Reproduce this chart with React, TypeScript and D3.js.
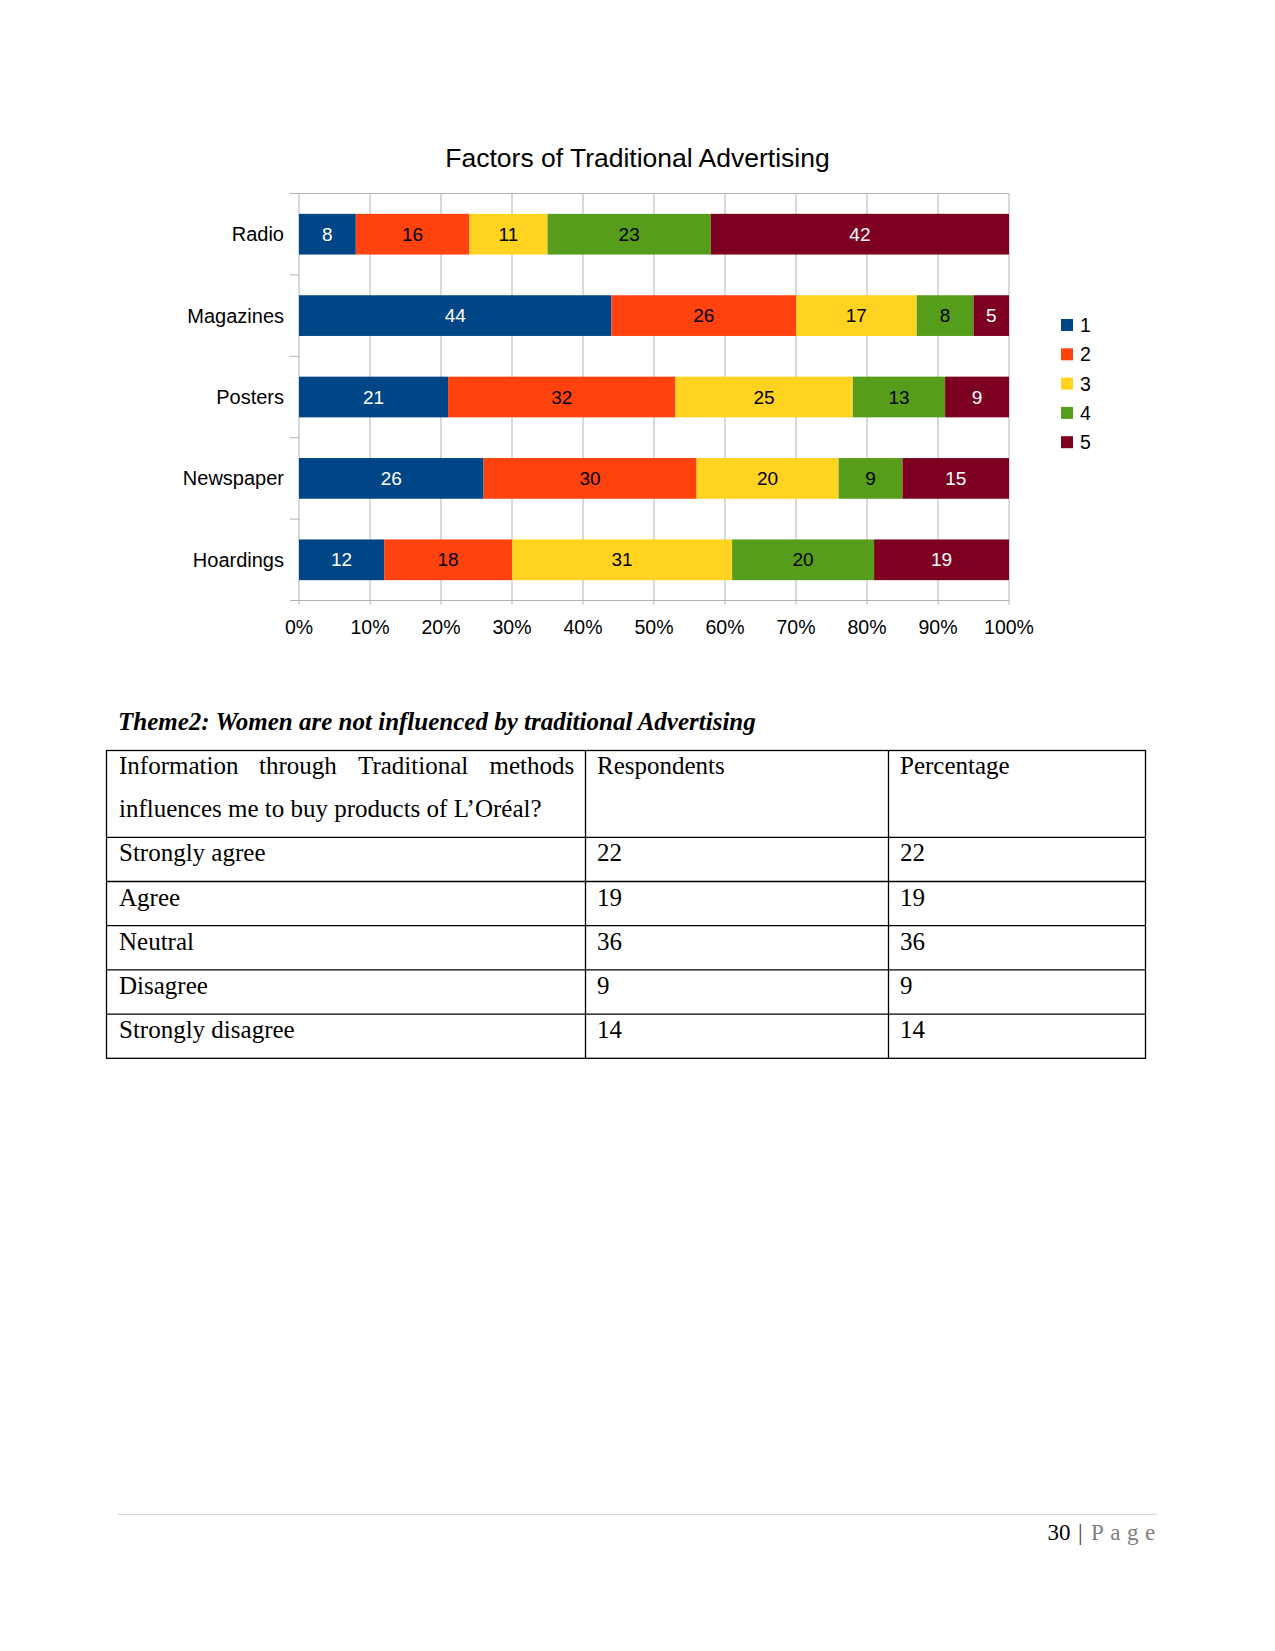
import React from "react";
import * as d3 from "d3";

const categories = ["Radio", "Magazines", "Posters", "Newspaper", "Hoardings"];
const seriesNames = ["1", "2", "3", "4", "5"];
const s1 = [8, 44, 21, 26, 12];
const s2 = [16, 26, 32, 30, 18];
const s3 = [11, 17, 25, 20, 31];
const s4 = [23, 8, 13, 9, 20];
const s5 = [42, 5, 9, 15, 19];
const seriesColors = ["#004586", "#ff420e", "#ffd320", "#579d1c", "#7e0021"];
const labelColors = ["#ffffff", "#000000", "#000000", "#000000", "#ffffff"];
const xTicks = [0, 10, 20, 30, 40, 50, 60, 70, 80, 90, 100];

const headerWords = ["Information", "through", "Traditional", "methods"];
const headerWordX = [119, 259, 358, 489.5];
const headerLine2 = "influences me to buy products of L\u2019Oréal?";
const tableCols = ["Respondents", "Percentage"];
const responses = ["Strongly agree", "Agree", "Neutral", "Disagree", "Strongly disagree"];
const respondents = [22, 19, 36, 9, 14];
const percentages = [22, 19, 36, 9, 14];

const SANS = "'Liberation Sans', Arial, sans-serif";
const SERIF = "'Liberation Serif', 'Times New Roman', serif";

export default function App() {
  const series = [s1, s2, s3, s4, s5];
  const left = 299, right = 1009, top = 193.5, bottom = 600.5;
  const x = d3.scaleLinear().domain([0, 100]).range([left, right]);
  const y = d3.scaleBand().domain(categories).range([top, bottom]).paddingInner(0.5).paddingOuter(0.25);
  const band = d3.scaleBand().domain(categories).range([top, bottom]);

  const rows = categories.map((c, i) => {
    const vals = series.map((s) => s[i]);
    const total = d3.sum(vals);
    let acc = 0;
    return vals.map((v, k) => {
      const x0 = (acc / total) * 100;
      acc += v;
      const x1 = (acc / total) * 100;
      return { c, v, k, x0, x1 };
    });
  });

  const tLeft = 106.5, tRight = 1145.5, c1 = 585.5, c2 = 888.5;
  const tTop = 750.5, hdrBottom = 837.3, rowH = 44.2;
  const rowY = d3.range(responses.length + 1).map((i) => hdrBottom + i * rowH);

  return (
    <svg width={1275} height={1651} style={{ position: "absolute", left: 0, top: 0, background: "#fff" }}>
      <rect x={0} y={0} width={1275} height={1651} fill="#fff" />
      <text x={637.5} y={167} textAnchor="middle" fontFamily={SANS} fontSize={26.5} fill="#000">
        Factors of Traditional Advertising
      </text>
      {xTicks.map((t) => (
        <line key={"g" + t} x1={x(t)} x2={x(t)} y1={top} y2={bottom + 4} stroke="#b3b3b3" strokeWidth={1} />
      ))}
      {categories.map((c) => (
        <line key={"ct" + c} x1={290} x2={x(0)} y1={band(c)!} y2={band(c)!} stroke="#b3b3b3" strokeWidth={1} />
      ))}
      <line x1={290} x2={x(100)} y1={top} y2={top} stroke="#b3b3b3" strokeWidth={1} />
      <line x1={290} x2={x(100)} y1={bottom} y2={bottom} stroke="#b3b3b3" strokeWidth={1} />
      {rows.map((segs) =>
        segs.map((s) => (
          <rect
            key={s.c + s.k}
            x={x(s.x0)}
            y={y(s.c)!}
            width={x(s.x1) - x(s.x0)}
            height={y.bandwidth()}
            fill={seriesColors[s.k]}
          />
        ))
      )}
      {rows.map((segs) =>
        segs.map((s) => (
          <text
            key={"l" + s.c + s.k}
            x={(x(s.x0) + x(s.x1)) / 2}
            y={y(s.c)! + y.bandwidth() / 2}
            textAnchor="middle"
            dominantBaseline="central"
            fontFamily={SANS}
            fontSize={19}
            fill={labelColors[s.k]}
          >
            {s.v}
          </text>
        ))
      )}
      {categories.map((c) => (
        <text
          key={"cl" + c}
          x={284}
          y={y(c)! + y.bandwidth() / 2}
          textAnchor="end"
          dominantBaseline="central"
          fontFamily={SANS}
          fontSize={20}
          fill="#000"
        >
          {c}
        </text>
      ))}
      {xTicks.map((t) => (
        <text key={"xl" + t} x={x(t)} y={634} textAnchor="middle" fontFamily={SANS} fontSize={19.5} fill="#000">
          {t + "%"}
        </text>
      ))}
      {seriesNames.map((n, i) => (
        <g key={"lg" + n} transform={`translate(1061, ${325 + i * 29.3})`}>
          <rect x={0} y={-6} width={12} height={12} fill={seriesColors[i]} />
          <text x={19} y={0} dominantBaseline="central" fontFamily={SANS} fontSize={19.5} fill="#000">
            {n}
          </text>
        </g>
      ))}

      <text x={118} y={730} fontFamily={SERIF} fontSize={25} fontWeight="bold" fontStyle="italic" fill="#000">
        Theme2: Women are not influenced by traditional Advertising
      </text>

      <g fontFamily={SERIF} fontSize={25} fill="#000">
        {headerWords.map((w, i) => (
          <text key={"hw" + w} x={headerWordX[i]} y={773.5}>{w}</text>
        ))}
        <text x={119} y={817}>{headerLine2}</text>
        <text x={597} y={773.5}>{tableCols[0]}</text>
        <text x={900} y={773.5}>{tableCols[1]}</text>
        {responses.map((r, i) => (
          <g key={"r" + r}>
            <text x={119} y={rowY[i] + 24}>{r}</text>
            <text x={597} y={rowY[i] + 24}>{respondents[i]}</text>
            <text x={900} y={rowY[i] + 24}>{percentages[i]}</text>
          </g>
        ))}
      </g>
      <g stroke="#000" strokeWidth={1.3} fill="none">
        <rect x={tLeft} y={tTop} width={tRight - tLeft} height={rowY[rowY.length - 1] - tTop} />
        {rowY.slice(0, -1).map((yy, i) => (
          <line key={"hl" + i} x1={tLeft} x2={tRight} y1={yy} y2={yy} />
        ))}
        <line x1={c1} x2={c1} y1={tTop} y2={rowY[rowY.length - 1]} />
        <line x1={c2} x2={c2} y1={tTop} y2={rowY[rowY.length - 1]} />
      </g>

      <line x1={118} x2={1157} y1={1514.3} y2={1514.3} stroke="#d9d9d9" strokeWidth={1.3} />
      <g fontFamily={SERIF} fontSize={23}>
        <text x={1047.5} y={1539.5} fill="#000">30</text>
        <text x={1078} y={1539.5} fill="#444">|</text>
        <text x={1091} y={1539.5} fill="#7f7f7f" letterSpacing={6.5}>Page</text>
      </g>
    </svg>
  );
}
